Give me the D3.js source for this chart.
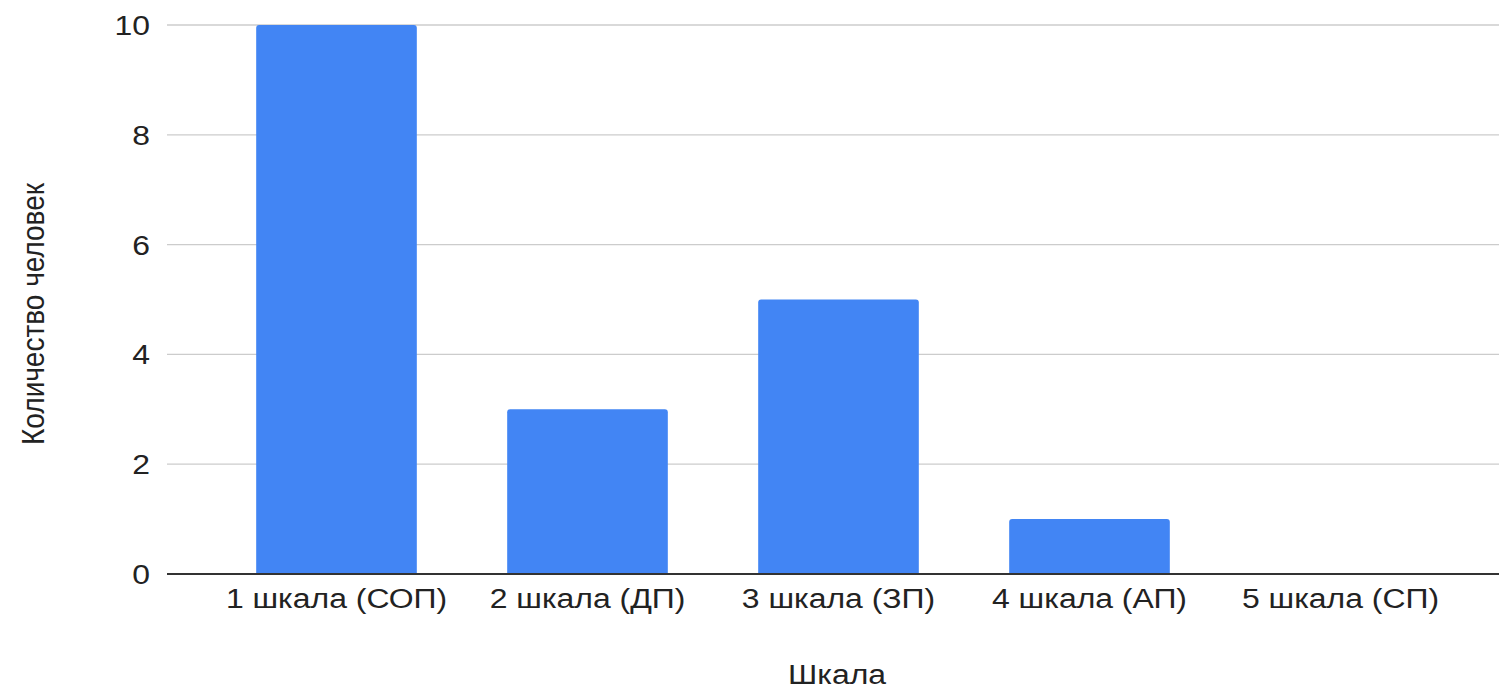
<!DOCTYPE html>
<html>
<head>
<meta charset="utf-8">
<script src="https://cdn.jsdelivr.net/npm/d3@7"></script>
<style>
  html, body { margin: 0; padding: 0; background: #fff; }
  svg text { font-family: "Liberation Sans", Arial, sans-serif; fill: #222; }
</style>
</head>
<body>
<div id="chart"></div>
<script>
const categories = ['1 шкала (СОП)', '2 шкала (ДП)', '3 шкала (ЗП)', '4 шкала (АП)', '5 шкала (СП)'];
const values = [10, 3, 5, 1, 0];
const yTicks = [0, 2, 4, 6, 8, 10];

const width = 1499;
const height = 689;
const plot = { left: 167, right: 1499, top: 25, bottom: 574 };
const fontSize = 28;
const stretch = 1.14; // the source picture is a bit wider than tall

const svg = d3.select('#chart')
  .append('svg')
  .attr('width', width)
  .attr('height', height);

const x = d3.scaleBand()
  .domain(categories)
  .range([211, 1466])
  .paddingInner(0.36)
  .paddingOuter(0.18);

const y = d3.scaleLinear()
  .domain([0, 10])
  .range([plot.bottom, plot.top]);

// gridlines
svg.append('g')
  .selectAll('line')
  .data(yTicks.filter((d) => d !== 0))
  .join('line')
  .attr('x1', plot.left)
  .attr('x2', plot.right)
  .attr('y1', (d) => y(d))
  .attr('y2', (d) => y(d))
  .attr('stroke', '#cccccc')
  .attr('stroke-width', 1.3);

// y tick labels
svg.append('g')
  .selectAll('text')
  .data(yTicks)
  .join('text')
  .attr('transform', (d) => `translate(150,${y(d)}) scale(${stretch},1)`)
  .attr('dy', '0.36em')
  .attr('text-anchor', 'end')
  .attr('font-size', fontSize)
  .text((d) => d);

// bars with slightly rounded top
const r = 3;
svg.append('g')
  .selectAll('path')
  .data(values.map((v, i) => ({ cat: categories[i], v })).filter((d) => d.v > 0))
  .join('path')
  .attr('fill', '#4285f4')
  .attr('d', (d) => {
    const x0 = x(d.cat);
    const x1 = x0 + x.bandwidth();
    const y0 = y(0);
    const y1 = y(d.v);
    return `M${x0},${y0}V${y1 + r}Q${x0},${y1} ${x0 + r},${y1}H${x1 - r}Q${x1},${y1} ${x1},${y1 + r}V${y0}Z`;
  });

// baseline
svg.append('line')
  .attr('x1', plot.left)
  .attr('x2', plot.right)
  .attr('y1', y(0))
  .attr('y2', y(0))
  .attr('stroke', '#333333')
  .attr('stroke-width', 2);

// x category labels
svg.append('g')
  .selectAll('text')
  .data(categories)
  .join('text')
  .attr('transform', (d) => `translate(${x(d) + x.bandwidth() / 2},608) scale(${stretch},1)`)
  .attr('text-anchor', 'middle')
  .attr('font-size', fontSize)
  .text((d) => d);

// axis titles
svg.append('text')
  .attr('transform', `translate(837,684) scale(${stretch},1)`)
  .attr('text-anchor', 'middle')
  .attr('font-size', fontSize)
  .text('Шкала');

svg.append('text')
  .attr('transform', `translate(44,314) rotate(-90) scale(1,${stretch})`)
  .attr('text-anchor', 'middle')
  .attr('font-size', fontSize)
  .text('Количество человек');
</script>
</body>
</html>
